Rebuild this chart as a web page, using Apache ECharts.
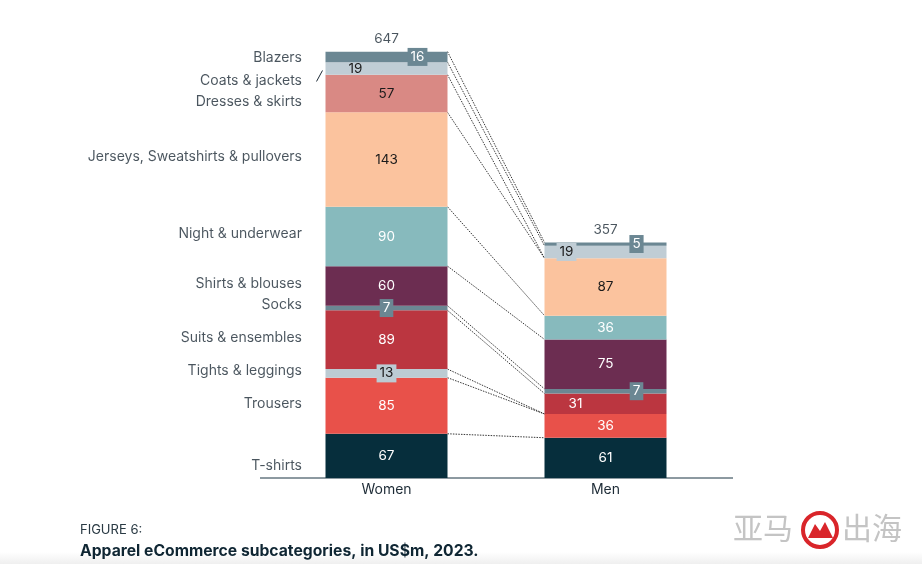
<!DOCTYPE html>
<html>
<head>
<meta charset="utf-8">
<script src="https://cdn.jsdelivr.net/npm/echarts@6/dist/echarts.min.js"></script>
<style>html,body{margin:0;padding:0;background:#fff}#c{width:922px;height:564px}</style>
</head>
<body>
<div id="c"></div>
<script>
const genders = ['Women', 'Men'];
const subcats = ['T-shirts', 'Trousers', 'Tights & leggings', 'Suits & ensembles', 'Socks', 'Shirts & blouses', 'Night & underwear', 'Jerseys, Sweatshirts & pullovers', 'Dresses & skirts', 'Coats & jackets', 'Blazers'];
const women = [67, 85, 13, 89, 7, 60, 90, 143, 57, 19, 16];
const men = [61, 36, 0, 31, 7, 75, 36, 87, 0, 19, 5];
const totals = [647, 357];

// styles
const colors = ['#062e3c', '#e8514a', '#bccbd3', '#bb3640', '#6b8793', '#6c2d51', '#87babd', '#fbc39e', '#d98984', '#c0cdd5', '#6b8793'];
const darkText = ['Tights & leggings', 'Jerseys, Sweatshirts & pullovers', 'Dresses & skirts', 'Coats & jackets'];
const labelCfg = {
  'Tights & leggings': [{box: true}, {}],
  'Socks': [{box: true}, {box: true, dx: 31}],
  'Blazers': [{box: true, dx: 31}, {box: true, dx: 31}],
  'Coats & jackets': [{dx: -31}, {box: true, dx: -39}],
  'Suits & ensembles': [{}, {dx: -30}]
};
const nameDy = {'Blazers': 1, 'Coats & jackets': 12, 'Dresses & skirts': 8, 'T-shirts': 10, 'Shirts & blouses': -2, 'Suits & ensembles': -2, 'Trousers': -2};
const FONT = 'Inter';
const BARW = 122;

function cum(arr) { let s = 0; return arr.map(v => (s += v)); }
const cumW = cum(women), cumM = cum(men);

const series = subcats.map((name, i) => {
  const txt = darkText.includes(name) ? '#1a1a1a' : '#ffffff';
  const cfg = labelCfg[name] || [{}, {}];
  const vals = [women[i], men[i]];
  return {
    name, type: 'bar', stack: 'total', barWidth: BARW,
    itemStyle: {color: colors[i]},
    data: vals.map((v, g) => {
      const c = cfg[g] || {};
      return {
        value: v,
        label: {
          show: v > 0,
          position: 'inside',
          color: txt,
          fontFamily: FONT, fontSize: 13.5,
          offset: [c.dx || 0, 0],
          backgroundColor: c.box ? colors[i] : 'transparent',
          padding: c.box ? [2, 3] : 0
        }
      };
    })
  };
});

// category names on the left of the Women bar
series.push({
  type: 'scatter', symbolSize: 1, itemStyle: {color: 'rgba(0,0,0,0)'},
  silent: true,
  data: subcats.map((name, i) => ({
    value: [0, cumW[i] - women[i] / 2],
    label: {
      show: true, position: 'left', distance: 84,
      formatter: name, color: '#1d2b36', fontFamily: FONT, fontSize: 14,
      offset: [0, (nameDy[name] !== undefined ? nameDy[name] : -3)]
    }
  }))
});

// totals
series.push({
  type: 'scatter', symbolSize: 1, itemStyle: {color: 'rgba(0,0,0,0)'}, silent: true,
  data: [[0, cumW[cumW.length - 1]], [1, cumM[cumM.length - 1]]],
  label: {show: true, position: 'top', distance: 5, color: '#1d2b36', fontFamily: FONT, fontSize: 13.5,
    formatter: p => String(totals[p.dataIndex])}
});

// dotted connectors between segment tops
series.push({
  type: 'custom', silent: true, z: 1,
  data: subcats.map((n, i) => [cumW[i], cumM[i]]),
  renderItem: function (params, api) {
    const p1 = api.coord([0, api.value(0)]);
    const p2 = api.coord([1, api.value(1)]);
    return {
      type: 'line',
      shape: {x1: p1[0] + BARW / 2, y1: p1[1], x2: p2[0] - BARW / 2, y2: p2[1]},
      style: {stroke: '#222', lineWidth: 0.9, lineDash: [1.5, 1.2]}
    };
  }
});

const chart = echarts.init(document.getElementById('c'), null, {renderer: 'canvas'});
chart.setOption({
  animation: false,
  backgroundColor: '#fff',
  grid: {left: 277, right: 207, top: 16, bottom: 86},
  xAxis: {
    type: 'category', data: genders,
    axisLine: {show: false}, axisTick: {show: false},
    axisLabel: {color: '#1d2b36', fontFamily: FONT, fontSize: 14, margin: 5}
  },
  yAxis: {type: 'value', min: 0, max: 700, show: false, splitLine: {show: false}},
  series,
  graphic: [
    {type: 'line', shape: {x1: 260, y1: 478, x2: 733, y2: 478}, style: {stroke: '#1a3443', lineWidth: 1}},
    {type: 'rect', shape: {x: 0, y: 552, width: 922, height: 12}, z: -1,
      style: {fill: new echarts.graphic.LinearGradient(0, 0, 0, 1, [{offset: 0, color: '#ffffff'}, {offset: 1, color: '#efefef'}])}},
    {type: 'text', left: 80, top: 524, style: {text: 'FIGURE 6:', fill: '#2a3a44', font: '13px ' + FONT}},
    {type: 'text', left: 80, top: 543, style: {text: 'Apparel eCommerce subcategories, in US$m, 2023.', fill: '#0f2633', font: 'bold 15.7px ' + FONT}},
    {type: 'text', left: 733, top: 513, style: {text: '亚马', fill: '#c4c4c4', font: '30px "Noto Sans CJK SC"'}},
    {type: 'circle', shape: {cx: 820, cy: 530, r: 17}, style: {fill: '#fff', stroke: '#d9252a', lineWidth: 4}},
    {type: 'polygon', shape: {points: [[808, 538], [815, 524], [820, 531], [825, 522], [833, 538]]}, style: {fill: '#d9252a'}},
    {type: 'text', left: 842, top: 513, style: {text: '出海', fill: '#c4c4c4', font: '30px "Noto Sans CJK SC"'}}
  ]
});

// leader stroke for "Coats & jackets"
const ci = subcats.indexOf('Coats & jackets');
const pc = chart.convertToPixel({gridIndex: 0}, [0, cumW[ci] - women[ci] / 2]);
const lx = pc[0] - BARW / 2;
chart.setOption({graphic: [{type: 'line', id: 'leader', shape: {x1: lx - 9, y1: pc[1] + 13, x2: lx - 3, y2: pc[1] + 2}, style: {stroke: '#1d2b36', lineWidth: 1}}]});
</script>
</body>
</html>
